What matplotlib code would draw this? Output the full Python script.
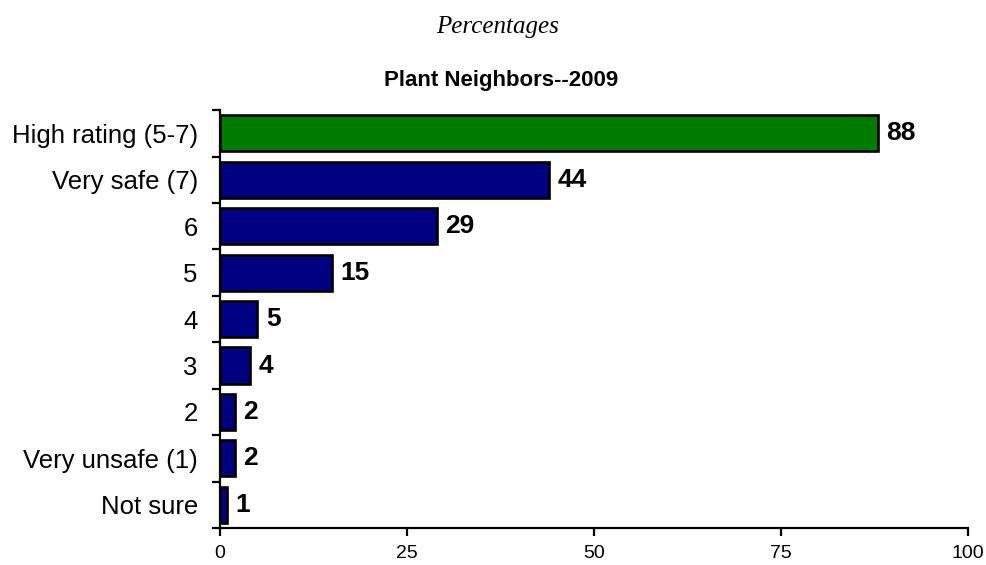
import numpy as np
from matplotlib import pyplot as plt

categories = ["High rating (5-7)", "Very safe (7)", "6", "5", "4", "3", "2",
              "Very unsafe (1)", "Not sure"]
values = [88, 44, 29, 15, 5, 4, 2, 2, 1]
bar_colors = ["#007A00"] + ["#000080"] * 8
xticks = [0, 25, 50, 75, 100]

fig = plt.figure(figsize=(9.87, 5.65), dpi=100)
ax = fig.add_axes([0.2229, 0.0655, 0.7578, 0.7395])

y = np.arange(len(categories))
ax.barh(y, values, height=0.78, color=bar_colors, edgecolor="black", linewidth=1.9)
for yi, v in zip(y, values):
    ax.annotate(str(v), (v, yi), xytext=(6, 0), textcoords="offset points",
                va="center", ha="left", fontsize=19, fontweight="bold",
                family="Liberation Sans")

ax.set_ylim(len(categories) - 0.5, -0.5)
ax.set_xlim(0, 100)
ax.set_xticks(xticks)
ax.set_xticklabels([str(t) for t in xticks], family="Liberation Sans", fontsize=14)
ax.set_yticks(y)
ax.set_yticklabels(categories, family="Liberation Sans", fontsize=18.5)
ax.set_yticks(np.arange(len(categories) + 1) - 0.5, minor=True)
ax.tick_params(axis="y", which="major", length=0, pad=16)
ax.tick_params(axis="y", which="minor", length=6, width=1.6, direction="out")
ax.tick_params(axis="x", length=6, width=1.6, direction="out", pad=6)
for s in ["top", "right"]:
    ax.spines[s].set_visible(False)
for s in ["left", "bottom"]:
    ax.spines[s].set_linewidth(1.6)

fig.text(0.504, 0.952, "Percentages", ha="center", va="center",
         family="Liberation Serif", style="italic", fontsize=18)
fig.text(0.508, 0.858, "Plant Neighbors--2009", ha="center", va="center",
         family="Liberation Sans", fontweight="bold", fontsize=16)

fig.savefig("out.png", dpi=100)
